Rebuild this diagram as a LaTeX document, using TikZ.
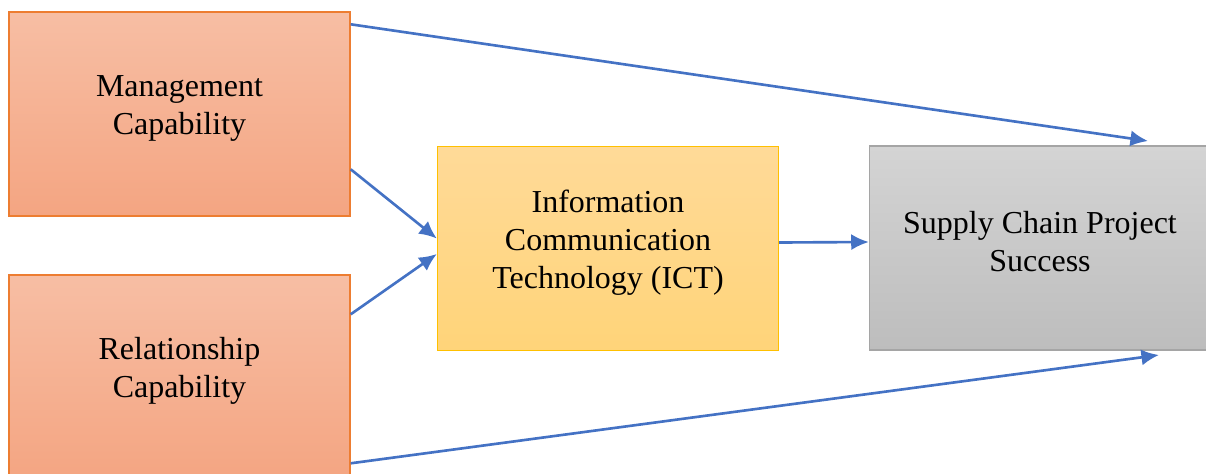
\documentclass[tikz,border=0pt]{standalone}
\usepackage{fontspec}
\setmainfont{Liberation Serif}
\newfontfamily\boxfont{Liberation Serif}
\usetikzlibrary{arrows.meta}

\definecolor{capfill}{HTML}{F7BEA4}
\definecolor{capfillb}{HTML}{F4A582}
\definecolor{capdraw}{HTML}{ED7D31}
\definecolor{ictfill}{HTML}{FFDA98}
\definecolor{ictfillb}{HTML}{FFD479}
\definecolor{ictdraw}{HTML}{FFC000}
\definecolor{scpfill}{HTML}{D4D4D4}
\definecolor{scpfillb}{HTML}{BDBDBD}
\definecolor{scpdraw}{HTML}{A5A5A5}
\definecolor{arrowblue}{HTML}{4472C4}

\tikzset{
    block/.style={minimum width=3.41cm, minimum height=2.04cm,
                  inner sep=0pt, line width=0.4pt},
    blocktext/.style={align=center, yshift=0.06cm,
                      font=\boxfont\fontsize{9.1}{10.8}\selectfont},
    capbox/.style={block, top color=capfill, bottom color=capfillb, draw=capdraw},
    ictbox/.style={block, top color=ictfill, bottom color=ictfillb, draw=ictdraw},
    scpbox/.style={block, top color=scpfill, bottom color=scpfillb, draw=scpdraw},
    link/.style={draw=arrowblue, line width=0.75pt, ->, >={Latex[length=5pt,width=4.6pt]}}
}

\begin{document}
\begin{tikzpicture}
    \clip (0,0) rectangle (12.06,-4.73);
    % Capabilities
    \node[capbox, label={[blocktext]center:Management\\Capability}] (mgmt) at (1.795,-1.14) {};
    \node[capbox, label={[blocktext]center:Relationship\\Capability}] (rel) at (1.795,-3.77) {};
    % ICT
    \node[ictbox, label={[blocktext]center:Information\\Communication\\Technology (ICT)}] (ict) at (6.08,-2.485) {};
    % Success
    \node[scpbox, label={[blocktext]center:Supply Chain Project\\Success}] (scp) at (10.40,-2.48) {};
    % free ends
    \coordinate (tipa) at (11.48,-1.41);
    \coordinate (tipb) at (11.59,-3.55);
    % links
    \draw[link] ([yshift=-0.13cm]mgmt.north east) -- (tipa);
    \draw[link] ([yshift=-1.58cm]mgmt.north east) -- ([yshift=0.1cm]ict.west);
    \draw[link] ([yshift=-0.40cm]rel.north east) -- ([yshift=-0.055cm]ict.west);
    \draw[link] ([yshift=0.06cm]ict.east) -- ([yshift=0.06cm]scp.west);
    \draw[link] ([yshift=-1.89cm]rel.north east) -- (tipb);
\end{tikzpicture}
\end{document}
